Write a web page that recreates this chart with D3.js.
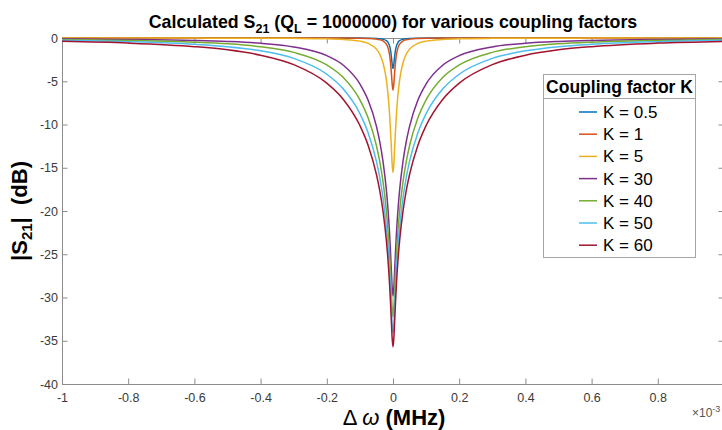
<!DOCTYPE html>
<html>
<head>
<meta charset="utf-8">
<script src="https://cdn.jsdelivr.net/npm/d3@7"></script>
<style>
  html, body { margin: 0; padding: 0; background: #fff; }
  svg { display: block; font-family: "Liberation Sans", Arial, Helvetica, sans-serif; }
</style>
</head>
<body>
<div id="chart"></div>
<script>
// frequency offset, in units of 1e-3 MHz
const dw = [-1, -0.8, -0.6, -0.5, -0.4, -0.3, -0.2, -0.15, -0.1, -0.075, -0.05, -0.04, -0.03, -0.02, -0.015, -0.01, -0.0075, -0.005, -0.0025,
  0, 0.0025, 0.005, 0.0075, 0.01, 0.015, 0.02, 0.03, 0.04, 0.05, 0.075, 0.1, 0.15, 0.2, 0.3, 0.4, 0.5, 0.6, 0.8, 1];

const kLabels = ["K = 0.5", "K = 1", "K = 5", "K = 30", "K = 40", "K = 50", "K = 60"];
const colors = ["#0072BD", "#D95319", "#EDB120", "#7E2F8E", "#77AC30", "#4DBEEE", "#A2142F"];

// |S21| in dB, one value per dw entry
const sK05 = [0, 0, 0, 0, 0, 0, 0, -0.01, -0.01, -0.02, -0.05, -0.08, -0.14, -0.31, -0.51, -0.97, -1.41, -2.11, -3.01,
  -3.52, -3.01, -2.11, -1.41, -0.97, -0.51, -0.31, -0.14, -0.08, -0.05, -0.02, -0.01, -0.01, 0, 0, 0, 0, 0, 0, 0];
const sK1 = [0, 0, 0, 0, 0, 0, -0.01, -0.01, -0.03, -0.06, -0.13, -0.2, -0.34, -0.71, -1.14, -2.04, -2.84, -3.98, -5.31,
  -6.02, -5.31, -3.98, -2.84, -2.04, -1.14, -0.71, -0.34, -0.2, -0.13, -0.06, -0.03, -0.01, -0.01, 0, 0, 0, 0, 0, 0];
const sK5 = [0, -0.01, -0.01, -0.02, -0.02, -0.04, -0.09, -0.17, -0.36, -0.63, -1.29, -1.87, -2.89, -4.86, -6.53, -9.03, -10.71, -12.67, -14.62,
  -15.56, -14.62, -12.67, -10.71, -9.03, -6.53, -4.86, -2.89, -1.87, -1.29, -0.63, -0.36, -0.17, -0.09, -0.04, -0.02, -0.02, -0.01, -0.01, 0];
const sK30 = [-0.1, -0.16, -0.28, -0.4, -0.61, -1.03, -2.04, -3.15, -5.31, -7.2, -10.21, -11.98, -14.31, -17.59, -19.87, -22.86, -24.72, -26.82, -28.86,
  -29.83, -28.86, -26.82, -24.72, -22.86, -19.87, -17.59, -14.31, -11.98, -10.21, -7.2, -5.31, -3.15, -2.04, -1.03, -0.61, -0.4, -0.28, -0.16, -0.1];
const sK40 = [-0.18, -0.28, -0.48, -0.67, -1.01, -1.66, -3.12, -4.57, -7.15, -9.26, -12.46, -14.29, -16.67, -19.99, -22.28, -25.28, -27.14, -29.25, -31.29,
  -32.26, -31.29, -29.25, -27.14, -25.28, -22.28, -19.99, -16.67, -14.29, -12.46, -9.26, -7.15, -4.57, -3.12, -1.66, -1.01, -0.67, -0.48, -0.28, -0.18];
const sK50 = [-0.27, -0.42, -0.72, -1, -1.48, -2.36, -4.19, -5.9, -8.74, -10.97, -14.27, -16.13, -18.53, -21.87, -24.17, -27.17, -29.04, -31.14, -33.18,
  -34.15, -33.18, -31.14, -29.04, -27.17, -24.17, -21.87, -18.53, -16.13, -14.27, -10.97, -8.74, -5.9, -4.19, -2.36, -1.48, -1, -0.72, -0.42, -0.27];
const sK60 = [-0.39, -0.59, -1, -1.37, -1.99, -3.08, -5.22, -7.1, -10.12, -12.42, -15.78, -17.65, -20.07, -23.42, -25.72, -28.72, -30.59, -32.7, -34.74,
  -35.71, -34.74, -32.7, -30.59, -28.72, -25.72, -23.42, -20.07, -17.65, -15.78, -12.42, -10.12, -7.1, -5.22, -3.08, -1.99, -1.37, -1, -0.59, -0.39];

const xTicks = [-1, -0.8, -0.6, -0.4, -0.2, 0, 0.2, 0.4, 0.6, 0.8, 1];
const yTicks = [-40, -35, -30, -25, -20, -15, -10, -5, 0];

const series = [sK05, sK1, sK5, sK30, sK40, sK50, sK60];

const W = 722, H = 430;
const x = d3.scaleLinear().domain([-1, 1]).range([62, 724]);
const y = d3.scaleLinear().domain([-40, 0]).range([384, 38]);

const svg = d3.select("#chart").append("svg").attr("width", W).attr("height", H);

const axisColor = "#8c8c8c";
const textColor = "#3a3a3a";

const styleAxis = (g) => {
  g.select(".domain").attr("stroke", axisColor);
  g.selectAll(".tick line").attr("stroke", axisColor);
  g.selectAll(".tick text").attr("fill", textColor).style("font-size", "12.5px")
    .style("font-family", '"Liberation Sans", Arial, sans-serif');
};

// the label for 1 falls past the right edge of the picture
const xFmt = (d) => (d === 1 ? "" : String(d));

// bottom + left with labels, top + right ticks only (box on)
svg.append("g").attr("transform", `translate(0,${y(-40)})`)
  .call(d3.axisBottom(x).tickValues(xTicks).tickSizeInner(-5.5).tickSizeOuter(0).tickPadding(9).tickFormat(xFmt))
  .call(styleAxis);
svg.append("g").attr("transform", `translate(0,${y(0)})`)
  .call(d3.axisTop(x).tickValues(xTicks).tickSizeInner(-5.5).tickSizeOuter(0).tickFormat(""))
  .call(styleAxis);
svg.append("g").attr("transform", `translate(${x(-1)},0)`)
  .call(d3.axisLeft(y).tickValues(yTicks).tickSizeInner(-5.5).tickSizeOuter(0).tickPadding(4).tickFormat((d) => String(d)))
  .call(styleAxis);
svg.append("g").attr("transform", `translate(${x(1)},0)`)
  .call(d3.axisRight(y).tickValues(yTicks).tickSizeInner(-5.5).tickSizeOuter(0).tickFormat(""))
  .call(styleAxis);

// curves
const line = d3.line()
  .x((d, i) => x(dw[i]))
  .y((d) => y(d))
  .curve(d3.curveMonotoneX);

svg.append("g")
  .selectAll("path")
  .data(series)
  .enter()
  .append("path")
  .attr("d", line)
  .attr("fill", "none")
  .attr("stroke", (d, i) => colors[i])
  .attr("stroke-width", 1.5);

// title
const title = svg.append("text")
  .attr("x", 393).attr("y", 28)
  .attr("text-anchor", "middle")
  .attr("font-weight", "bold")
  .attr("font-size", 17.8)
  .attr("fill", "#000");
title.append("tspan").text("Calculated S");
title.append("tspan").attr("dy", 5).attr("font-size", 12.5).text("21");
title.append("tspan").attr("dy", -5).text(" (Q");
title.append("tspan").attr("dy", 5).attr("font-size", 12.5).text("L");
title.append("tspan").attr("dy", -5).text(" = 1000000) for various coupling factors");

// y label
const yl = svg.append("text")
  .attr("transform", "translate(27,211) rotate(-90)")
  .attr("text-anchor", "middle")
  .attr("font-weight", "bold")
  .attr("font-size", 22)
  .attr("fill", "#000");
yl.append("tspan").text("|S");
yl.append("tspan").attr("dy", 5).attr("font-size", 15).text("21");
yl.append("tspan").attr("dy", -5).text("|\u00a0 (dB)");

// x label
const xl = svg.append("text")
  .attr("x", 394).attr("y", 425)
  .attr("text-anchor", "middle")
  .attr("font-size", 22)
  .attr("fill", "#000");
xl.append("tspan").text("\u0394 ");
xl.append("tspan").attr("font-style", "italic").text("\u03c9");
xl.append("tspan").attr("font-weight", "bold").text(" (MHz)");

// exponent of the x axis
const ex = svg.append("text")
  .attr("x", 692).attr("y", 417)
  .attr("font-size", 12)
  .attr("fill", "#555");
ex.append("tspan").text("\u00d710");
ex.append("tspan").attr("dy", -5).attr("font-size", 9).text("-3");

// legend
const lg = svg.append("g").attr("transform", "translate(543,74)");
lg.append("rect")
  .attr("x", 0.5).attr("y", 0.5).attr("width", 152).attr("height", 183)
  .attr("fill", "#fff").attr("stroke", "#a6a6a6");
lg.append("line")
  .attr("x1", 0.5).attr("x2", 152.5).attr("y1", 24.5).attr("y2", 24.5)
  .attr("stroke", "#a6a6a6");
lg.append("text")
  .attr("x", 76.5).attr("y", 18.5)
  .attr("text-anchor", "middle")
  .attr("font-weight", "bold")
  .attr("font-size", 17.5)
  .text("Coupling factor K");

const items = lg.selectAll(".legend-item")
  .data(kLabels)
  .enter()
  .append("g")
  .attr("class", "legend-item")
  .attr("transform", (d, i) => `translate(0,${38 + i * 22.2})`);
items.append("line")
  .attr("x1", 36).attr("x2", 54)
  .attr("stroke", (d, i) => colors[i])
  .attr("stroke-width", 1.5);
items.append("text")
  .attr("x", 60).attr("y", 6)
  .attr("font-size", 17)
  .attr("fill", "#000")
  .text((d) => d);
</script>
</body>
</html>
